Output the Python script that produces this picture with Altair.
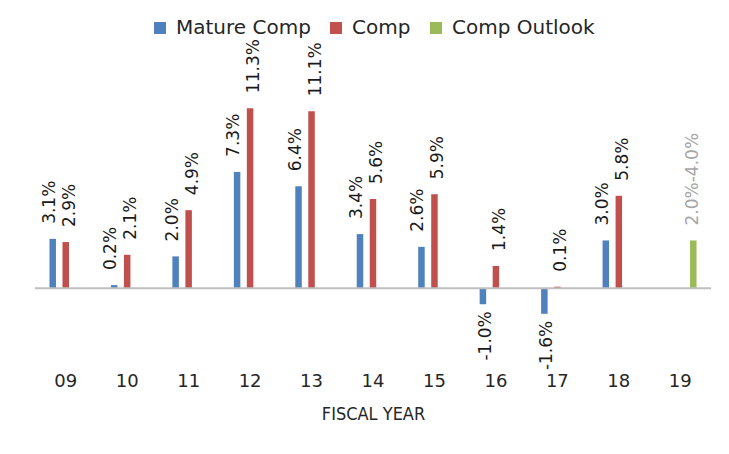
import altair as alt
import pandas as pd

years = ["09", "10", "11", "12", "13", "14", "15", "16", "17", "18", "19"]
mature_comp = [3.1, 0.2, 2.0, 7.3, 6.4, 3.4, 2.6, -1.0, -1.6, 3.0, None]
comp = [2.9, 2.1, 4.9, 11.3, 11.1, 5.6, 5.9, 1.4, 0.1, 5.8, None]
comp_outlook = [None, None, None, None, None, None, None, None, None, None, 3.0]
outlook_label = "2.0%-4.0%"
series_names = ["Mature Comp", "Comp", "Comp Outlook"]
series_colors = ["#4F81BD", "#C0504D", "#9BBB59"]

rows = []
for i, yr in enumerate(years):
    for name, vals in zip(series_names, [mature_comp, comp, comp_outlook]):
        v = vals[i]
        if v is None:
            continue
        lab = outlook_label if name == "Comp Outlook" else f"{v:.1f}%"
        rows.append({"year": yr, "series": name, "value": v, "label": lab})
df = pd.DataFrame(rows)

x_enc = alt.X(
    "year:N",
    sort=years,
    scale=alt.Scale(paddingInner=0.365, paddingOuter=0.1825),
    axis=alt.Axis(
        title="FISCAL YEAR",
        labelAngle=0,
        domain=False,
        ticks=False,
        labelFont="DejaVu Sans",
        labelFontSize=18,
        labelColor="#262626",
        labelPadding=4,
        titleFont="DejaVu Sans Condensed",
        titleFontSize=18,
        titleFontWeight="normal",
        titleColor="#262626",
        titlePadding=15,
    ),
)
xoff_enc = alt.XOffset(
    "series:N",
    sort=series_names,
    scale=alt.Scale(domain=series_names, paddingInner=0.5, paddingOuter=0.25),
)
y_enc = alt.Y("value:Q", scale=alt.Scale(domain=[-5, 12.5], nice=False, zero=True), axis=None)

base = alt.Chart(df)

bars = base.mark_bar().encode(
    x=x_enc,
    xOffset=xoff_enc,
    y=y_enc,
    color=alt.Color(
        "series:N",
        scale=alt.Scale(domain=series_names, range=series_colors),
        legend=alt.Legend(
            title=None,
            orient="none",
            direction="horizontal",
            legendX=115,
            legendY=-71,
            symbolType="square",
            symbolSize=144,
            symbolStrokeWidth=0,
            labelFont="DejaVu Sans",
            labelFontSize=20,
            labelColor="#262626",
            labelOffset=6,
            columnPadding=15,
            labelLimit=0,
        ),
    ),
)

label_color = alt.condition(
    alt.datum.series == "Comp Outlook", alt.value("#a6a6a6"), alt.value("#1a1a1a")
)

text_style = dict(angle=270, baseline="middle", font="DejaVu Sans", fontSize=17)

pos_blue = base.transform_filter(
    "datum.value >= 0 && datum.series == 'Mature Comp'"
).mark_text(align="left", dx=15, dy=-3, **text_style).encode(
    x=x_enc, xOffset=xoff_enc, y=y_enc, text="label:N", color=label_color
)

pos_red = base.transform_filter(
    "datum.value >= 0 && datum.series == 'Comp'"
).mark_text(align="left", dx=15, dy=4, **text_style).encode(
    x=x_enc, xOffset=xoff_enc, y=y_enc, text="label:N", color=label_color
)

pos_outlook = base.transform_filter(
    "datum.series == 'Comp Outlook'"
).mark_text(align="left", dx=15, dy=0, **text_style).encode(
    x=x_enc, xOffset=xoff_enc, y=y_enc, text="label:N", color=label_color
)

neg_labels = base.transform_filter("datum.value < 0").mark_text(
    align="right", dx=-7, dy=3, **text_style
).encode(x=x_enc, xOffset=xoff_enc, y=y_enc, text="label:N", color=label_color)

zero_line = alt.Chart(pd.DataFrame({"z": [0]})).mark_rule(color="#bfbfbf", strokeWidth=2).encode(
    y=alt.Y("z:Q", scale=alt.Scale(domain=[-5, 12.5], nice=False, zero=True), axis=None)
)

chart = (
    alt.layer(bars, zero_line, pos_blue, pos_red, pos_outlook, neg_labels)
    .properties(
        width=676,
        height=279,
        padding={"left": 27, "top": 81, "right": 10, "bottom": 78},
        autosize=alt.AutoSizeParams(type="none"),
    )
    .configure_view(stroke=None)
)

chart.save("out.html", embed_options={"renderer": "svg", "actions": False})
